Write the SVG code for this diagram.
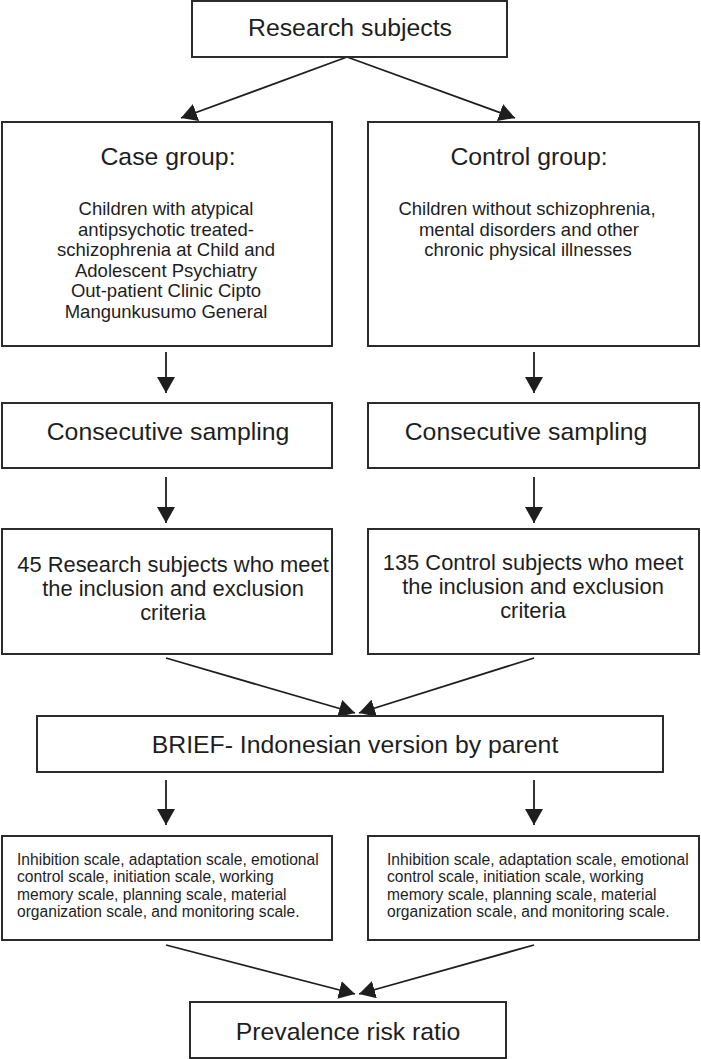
<svg xmlns="http://www.w3.org/2000/svg" width="701" height="1059" viewBox="0 0 701 1059">
<style>
.box{fill:#fff;stroke:#2b2b2b;stroke-width:2}
.h{font-family:"Liberation Sans",Arial,sans-serif;font-size:24.8px;fill:#1e1e1e;text-anchor:middle}
.b{font-family:"Liberation Sans",Arial,sans-serif;font-size:18.5px;fill:#1e1e1e;text-anchor:middle}
.n{font-family:"Liberation Sans",Arial,sans-serif;font-size:21.9px;fill:#1e1e1e;text-anchor:middle}
.s{font-family:"Liberation Sans",Arial,sans-serif;font-size:15.6px;fill:#1e1e1e}
.c{stroke:#1e1e1e;stroke-width:1.8;fill:none;marker-end:url(#ah)}
</style>
<defs>
<marker id="ah" markerUnits="userSpaceOnUse" markerWidth="17" markerHeight="18" refX="16" refY="9" orient="auto">
<path d="M0,0 L16,9 L0,18 z" fill="#1e1e1e"/>
</marker>
</defs>
<rect width="701" height="1059" fill="#fff"/>
<g id="connectors">
<line class="c" x1="347" y1="57" x2="181" y2="118"/>
<line class="c" x1="347" y1="57" x2="515" y2="118"/>
<line class="c" x1="166" y1="352" x2="166" y2="393"/>
<line class="c" x1="534" y1="352" x2="534" y2="393"/>
<line class="c" x1="166" y1="477" x2="166" y2="523"/>
<line class="c" x1="534" y1="477" x2="534" y2="523"/>
<line class="c" x1="166" y1="658" x2="355" y2="713"/>
<line class="c" x1="534" y1="658" x2="359" y2="713"/>
<line class="c" x1="166" y1="780" x2="166" y2="825"/>
<line class="c" x1="534" y1="780" x2="534" y2="825"/>
<line class="c" x1="166" y1="945" x2="355" y2="994"/>
<line class="c" x1="534" y1="945" x2="359" y2="994"/>
</g>
<g id="research-subjects">
<rect class="box" x="192" y="1" width="315" height="56"/>
<text class="h" x="350" y="36">Research subjects</text>
</g>
<g id="case-group">
<rect class="box" x="2" y="122" width="330" height="224"/>
<text class="h" x="168" y="165">Case group:</text>
<text class="b" x="166" y="215">Children with atypical</text>
<text class="b" x="166" y="235.5">antipsychotic treated-</text>
<text class="b" x="166" y="256">schizophrenia at Child and</text>
<text class="b" x="166" y="276.5">Adolescent Psychiatry</text>
<text class="b" x="166" y="297">Out-patient Clinic Cipto</text>
<text class="b" x="166" y="317.5">Mangunkusumo General</text>
</g>
<g id="control-group">
<rect class="box" x="368" y="122" width="331" height="224"/>
<text class="h" x="529" y="165">Control group:</text>
<text class="b" x="527" y="215">Children without schizophrenia,</text>
<text class="b" x="529" y="235.5">mental disorders and other</text>
<text class="b" x="528" y="256">chronic physical illnesses</text>
</g>
<g id="case-sampling">
<rect class="box" x="2" y="403" width="330" height="65"/>
<text class="h" x="168" y="440">Consecutive sampling</text>
</g>
<g id="control-sampling">
<rect class="box" x="368" y="403" width="331" height="65"/>
<text class="h" x="526" y="440">Consecutive sampling</text>
</g>
<g id="case-subjects">
<rect class="box" x="2" y="529" width="330" height="125"/>
<text class="n" x="173" y="572">45 Research subjects who meet</text>
<text class="n" x="173" y="596">the inclusion and exclusion</text>
<text class="n" x="173" y="620">criteria</text>
</g>
<g id="control-subjects">
<rect class="box" x="368" y="529" width="331" height="125"/>
<text class="n" x="533" y="570">135 Control subjects who meet</text>
<text class="n" x="533" y="594">the inclusion and exclusion</text>
<text class="n" x="533" y="618">criteria</text>
</g>
<g id="brief">
<rect class="box" x="37" y="716" width="626" height="56"/>
<text class="h" x="355" y="753">BRIEF- Indonesian version by parent</text>
</g>
<g id="case-scales">
<rect class="box" x="2" y="836" width="330" height="104"/>
<text class="s" x="17" y="865">Inhibition scale, adaptation scale, emotional</text>
<text class="s" x="17" y="882.3">control scale, initiation scale, working</text>
<text class="s" x="17" y="899.6">memory scale, planning scale, material</text>
<text class="s" x="17" y="917">organization scale, and monitoring scale.</text>
</g>
<g id="control-scales">
<rect class="box" x="368" y="836" width="331" height="104"/>
<text class="s" x="387" y="865">Inhibition scale, adaptation scale, emotional</text>
<text class="s" x="387" y="882.3">control scale, initiation scale, working</text>
<text class="s" x="387" y="899.6">memory scale, planning scale, material</text>
<text class="s" x="387" y="917">organization scale, and monitoring scale.</text>
</g>
<g id="prevalence">
<rect class="box" x="190" y="1002" width="316" height="56"/>
<text class="h" x="348" y="1040">Prevalence risk ratio</text>
</g>
</svg>
